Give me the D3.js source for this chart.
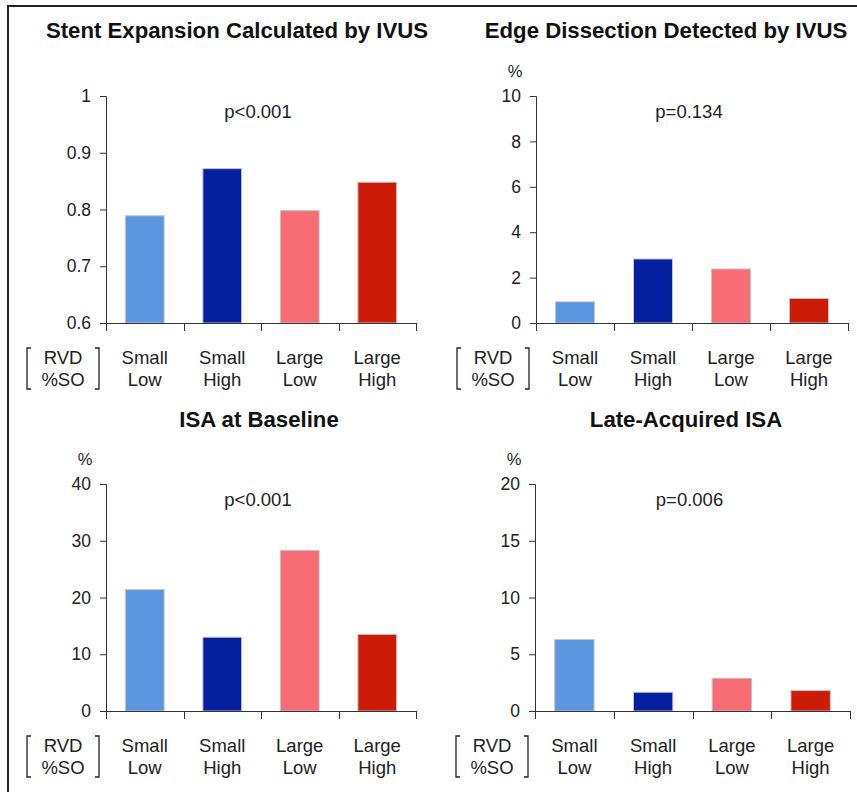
<!DOCTYPE html>
<html>
<head>
<meta charset="utf-8">
<script src="https://cdn.jsdelivr.net/npm/d3@7"></script>
<style>
  html, body { margin: 0; padding: 0; background: #fff; }
  svg { display: block; font-family: "Liberation Sans", Arial, sans-serif; }
</style>
</head>
<body>
<svg id="chart" width="857" height="792"></svg>
<script>
// Groups: reference vessel diameter (RVD) / percent stent oversizing (%SO)
const rvd = ["Small", "Small", "Large", "Large"];
const so = ["Low", "High", "Low", "High"];
const groupColors = ["#5b96e0", "#0420a0", "#f86c76", "#cc1c07"];

// Panel titles, p-values and y-axis units
const titles = ["Stent Expansion Calculated by IVUS", "Edge Dissection Detected by IVUS", "ISA at Baseline", "Late-Acquired ISA"];
const pValues = ["p<0.001", "p=0.134", "p<0.001", "p=0.006"];
const units = ["", "%", "%", "%"];

// Values per group for each panel
const stentExpansion = [0.789, 0.872, 0.798, 0.848];
const edgeDissection = [0.93, 2.82, 2.38, 1.08];
const isaBaseline = [21.4, 13.0, 28.3, 13.5];
const lateAcquiredIsa = [6.3, 1.65, 2.88, 1.8];

// Axis domains and tick values
const yDomains = [[0.6, 1], [0, 10], [0, 40], [0, 20]];
const yTickValues = [
  [0.6, 0.7, 0.8, 0.9, 1],
  [0, 2, 4, 6, 8, 10],
  [0, 10, 20, 30, 40],
  [0, 5, 10, 15, 20]
];
const yTickFormats = [d => (d === 1 ? "1" : d3.format(".1f")(d)), d3.format("d"), d3.format("d"), d3.format("d")];
const seriesByPanel = [stentExpansion, edgeDissection, isaBaseline, lateAcquiredIsa];

// Layout of the 2x2 grid
const layout = [
  { x0: 106, y0: 96, w: 310, titleX: 237, titleY: 38 },
  { x0: 536, y0: 96, w: 312, titleX: 666, titleY: 38 },
  { x0: 106, y0: 484, w: 310, titleX: 259, titleY: 427 },
  { x0: 535, y0: 484, w: 315, titleX: 686, titleY: 427 }
];
const plotH = 227;

const svg = d3.select("#chart");

// Frame lines on top and left
svg.append("line").attr("x1", 8).attr("x2", 857).attr("y1", 6).attr("y2", 6)
  .attr("stroke", "#222").attr("stroke-width", 2.2);
svg.append("line").attr("x1", 8).attr("x2", 8).attr("y1", 5).attr("y2", 792)
  .attr("stroke", "#222").attr("stroke-width", 2);

const groups = rvd.map((r, i) => i);

layout.forEach((L, p) => {
  const g = svg.append("g");
  const yBot = L.y0 + plotH;

  const x = d3.scaleBand().domain(groups).range([L.x0, L.x0 + L.w])
    .paddingInner(0.5).paddingOuter(0.25);
  const y = d3.scaleLinear().domain(yDomains[p]).range([yBot, L.y0]);

  // Title
  g.append("text").attr("x", L.titleX).attr("y", L.titleY)
    .attr("text-anchor", "middle").attr("font-weight", "bold")
    .attr("font-size", "22.2px").attr("fill", "#111").text(titles[p]);

  // Unit label
  if (units[p]) {
    g.append("text").attr("x", L.x0 - 21).attr("y", L.y0 - 19)
      .attr("text-anchor", "middle").attr("font-size", "16.5px").attr("fill", "#222")
      .text(units[p]);
  }

  // p-value
  g.append("text").attr("x", L.x0 + L.w / 2 - 3).attr("y", L.y0 + 22)
    .attr("text-anchor", "middle").attr("font-size", "18.5px").attr("fill", "#222")
    .text(pValues[p]);

  // Bars
  g.selectAll("rect.bar").data(seriesByPanel[p]).join("rect")
    .attr("class", "bar")
    .attr("x", (d, i) => x(i))
    .attr("width", x.bandwidth())
    .attr("y", d => y(d))
    .attr("height", d => yBot - y(d))
    .attr("fill", (d, i) => groupColors[i])
    .attr("stroke", "#c4c4c4").attr("stroke-width", 1);

  // Y axis
  const yAxis = d3.axisLeft(y).tickValues(yTickValues[p]).tickFormat(yTickFormats[p])
    .tickSize(6).tickPadding(9);
  const ya = g.append("g").attr("transform", `translate(${L.x0},0)`).call(yAxis);
  ya.select(".domain").attr("stroke", "#333");
  ya.selectAll(".tick line").attr("stroke", "#333");
  ya.selectAll(".tick text").attr("font-size", "17.5px").attr("fill", "#222")
    .attr("font-family", "Liberation Sans, Arial, sans-serif");

  // X axis: baseline with ticks at group boundaries
  const step = x.step();
  const bounds = d3.range(groups.length + 1).map(i => L.x0 + i * step);
  g.append("line").attr("x1", L.x0).attr("x2", L.x0 + L.w)
    .attr("y1", yBot + 0.5).attr("y2", yBot + 0.5).attr("stroke", "#333");
  g.selectAll("line.xtick").data(bounds).join("line").attr("class", "xtick")
    .attr("x1", d => Math.round(d) + 0.5).attr("x2", d => Math.round(d) + 0.5)
    .attr("y1", yBot).attr("y2", yBot + 8).attr("stroke", "#333");

  // Category labels (two lines)
  groups.forEach(i => {
    const cx = x(i) + x.bandwidth() / 2;
    g.append("text").attr("x", cx).attr("y", yBot + 41).attr("text-anchor", "middle")
      .attr("font-size", "18.5px").attr("fill", "#222").text(rvd[i]);
    g.append("text").attr("x", cx).attr("y", yBot + 63).attr("text-anchor", "middle")
      .attr("font-size", "18.5px").attr("fill", "#222").text(so[i]);
  });

  // Bracketed row key
  const bl = L.x0 - 79, br = L.x0 - 7, bTop = yBot + 25, bBot = yBot + 66;
  g.append("path")
    .attr("d", `M${bl + 4},${bTop}H${bl}V${bBot}H${bl + 4}`)
    .attr("fill", "none").attr("stroke", "#222").attr("stroke-width", 1.3);
  g.append("path")
    .attr("d", `M${br - 4},${bTop}H${br}V${bBot}H${br - 4}`)
    .attr("fill", "none").attr("stroke", "#222").attr("stroke-width", 1.3);
  g.append("text").attr("x", L.x0 - 43).attr("y", yBot + 41).attr("text-anchor", "middle")
    .attr("font-size", "18.5px").attr("fill", "#222").text("RVD");
  g.append("text").attr("x", L.x0 - 43).attr("y", yBot + 63).attr("text-anchor", "middle")
    .attr("font-size", "18.5px").attr("fill", "#222").text("%SO");
});
</script>
</body>
</html>
